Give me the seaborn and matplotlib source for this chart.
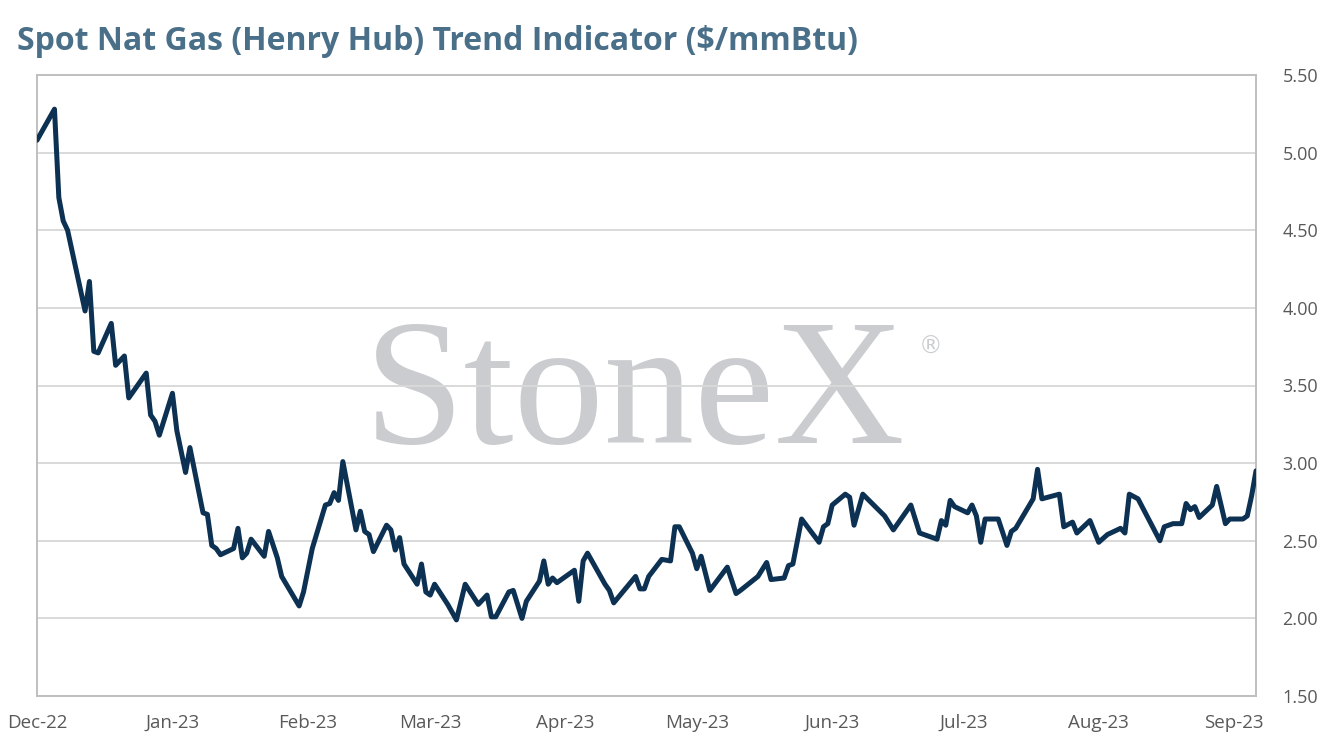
import matplotlib
matplotlib.use("Agg")
import matplotlib.pyplot as plt
import matplotlib.dates as mdates
import seaborn as sns
import pandas as pd

dates = [
    "2022-12-01", "2022-12-05", "2022-12-06", "2022-12-07", "2022-12-08", "2022-12-12", "2022-12-13",
    "2022-12-14", "2022-12-15", "2022-12-18", "2022-12-19", "2022-12-21", "2022-12-22", "2022-12-26",
    "2022-12-27", "2022-12-28", "2022-12-29", "2023-01-01", "2023-01-02", "2023-01-04", "2023-01-05",
    "2023-01-08", "2023-01-09", "2023-01-10", "2023-01-11", "2023-01-12", "2023-01-15", "2023-01-16",
    "2023-01-17", "2023-01-18", "2023-01-19", "2023-01-22", "2023-01-23", "2023-01-25", "2023-01-26",
    "2023-01-30", "2023-01-31", "2023-02-02", "2023-02-05", "2023-02-06", "2023-02-07", "2023-02-08",
    "2023-02-09", "2023-02-12", "2023-02-13", "2023-02-14", "2023-02-15", "2023-02-16", "2023-02-19",
    "2023-02-20", "2023-02-21", "2023-02-22", "2023-02-23", "2023-02-26", "2023-02-27", "2023-02-28",
    "2023-03-01", "2023-03-02", "2023-03-05", "2023-03-07", "2023-03-09", "2023-03-12", "2023-03-14",
    "2023-03-15", "2023-03-16", "2023-03-19", "2023-03-20", "2023-03-22", "2023-03-23", "2023-03-26",
    "2023-03-27", "2023-03-28", "2023-03-29", "2023-03-30", "2023-04-03", "2023-04-04", "2023-04-05",
    "2023-04-06", "2023-04-08", "2023-04-10", "2023-04-11", "2023-04-12", "2023-04-17", "2023-04-18",
    "2023-04-19", "2023-04-20", "2023-04-23", "2023-04-25", "2023-04-26", "2023-04-27", "2023-04-30",
    "2023-05-01", "2023-05-02", "2023-05-04", "2023-05-08", "2023-05-10", "2023-05-11", "2023-05-15",
    "2023-05-17", "2023-05-18", "2023-05-21", "2023-05-22", "2023-05-23", "2023-05-25", "2023-05-29",
    "2023-05-30", "2023-05-31", "2023-06-01", "2023-06-04", "2023-06-05", "2023-06-06", "2023-06-08",
    "2023-06-13", "2023-06-15", "2023-06-19", "2023-06-21", "2023-06-25", "2023-06-26", "2023-06-27",
    "2023-06-28", "2023-06-29", "2023-07-02", "2023-07-03", "2023-07-04", "2023-07-05", "2023-07-06",
    "2023-07-09", "2023-07-11", "2023-07-12", "2023-07-13", "2023-07-17", "2023-07-18", "2023-07-19",
    "2023-07-23", "2023-07-24", "2023-07-26", "2023-07-27", "2023-07-30", "2023-08-01", "2023-08-03",
    "2023-08-06", "2023-08-07", "2023-08-08", "2023-08-10", "2023-08-15", "2023-08-16", "2023-08-18",
    "2023-08-20", "2023-08-21", "2023-08-22", "2023-08-23", "2023-08-24", "2023-08-27", "2023-08-28",
    "2023-08-30", "2023-08-31", "2023-09-03", "2023-09-04", "2023-09-05", "2023-09-06",
]

prices = [
    5.08, 5.28, 4.71, 4.56, 4.50, 3.98, 4.17,
    3.72, 3.71, 3.90, 3.63, 3.69, 3.42, 3.58,
    3.31, 3.27, 3.18, 3.45, 3.21, 2.94, 3.10,
    2.68, 2.67, 2.47, 2.45, 2.41, 2.45, 2.58,
    2.39, 2.42, 2.51, 2.40, 2.56, 2.39, 2.27,
    2.08, 2.17, 2.45, 2.73, 2.74, 2.81, 2.76,
    3.01, 2.57, 2.69, 2.56, 2.54, 2.43, 2.60,
    2.57, 2.44, 2.52, 2.35, 2.22, 2.35, 2.17,
    2.15, 2.22, 2.09, 1.99, 2.22, 2.09, 2.15,
    2.01, 2.01, 2.17, 2.18, 2.00, 2.11, 2.24,
    2.37, 2.22, 2.26, 2.23, 2.31, 2.11, 2.37,
    2.42, 2.32, 2.22, 2.18, 2.10, 2.27, 2.19,
    2.19, 2.27, 2.38, 2.37, 2.59, 2.59, 2.42,
    2.32, 2.40, 2.18, 2.33, 2.16, 2.18, 2.27,
    2.36, 2.25, 2.26, 2.34, 2.35, 2.64, 2.49,
    2.59, 2.61, 2.73, 2.80, 2.78, 2.60, 2.80,
    2.66, 2.57, 2.73, 2.55, 2.51, 2.63, 2.60,
    2.76, 2.72, 2.68, 2.73, 2.66, 2.49, 2.64,
    2.64, 2.47, 2.56, 2.58, 2.77, 2.96, 2.77,
    2.80, 2.59, 2.62, 2.55, 2.63, 2.49, 2.54,
    2.58, 2.55, 2.80, 2.77, 2.50, 2.59, 2.61,
    2.61, 2.74, 2.70, 2.72, 2.65, 2.73, 2.85,
    2.61, 2.64, 2.64, 2.66, 2.79, 2.95,
]

y_ticks = [1.50, 2.00, 2.50, 3.00, 3.50, 4.00, 4.50, 5.00, 5.50]
title = "Spot Nat Gas (Henry Hub) Trend Indicator ($/mmBtu)"

df = pd.DataFrame({"date": pd.to_datetime(dates), "price": prices})

sns.set_theme(style="white")
plt.rcParams["font.family"] = ["Open Sans", "DejaVu Sans"]

fig = plt.figure(figsize=(13.35, 7.56), dpi=100)
ax = fig.add_axes([37 / 1335, 1 - 696 / 756, (1256 - 37) / 1335, (696 - 75) / 756])

sns.lineplot(data=df, x="date", y="price", ax=ax, color="#0c3152", linewidth=3.6,
             solid_joinstyle="round", solid_capstyle="round", zorder=3)

ax.set_xlim(pd.Timestamp("2022-12-01"), pd.Timestamp("2023-09-06"))
ax.set_ylim(1.5, 5.5)
ax.set_yticks(y_ticks)
ax.set_yticklabels([f"{v:.2f}" for v in y_ticks])
ax.yaxis.tick_right()
ax.xaxis.set_major_locator(mdates.MonthLocator())
ax.xaxis.set_major_formatter(mdates.DateFormatter("%b-%y"))
ax.tick_params(axis="both", length=0, colors="#595959")
ax.tick_params(axis="y", pad=19, labelsize=13)
ax.tick_params(axis="x", pad=13, labelsize=13.5)
ax.set_xlabel("")
ax.set_ylabel("")

ax.set_axisbelow(True)
ax.yaxis.grid(True, color="#d9d9d9", linewidth=1.4)
ax.xaxis.grid(False)
for s in ax.spines.values():
    s.set_color("#bfbfbf")
    s.set_linewidth(1.4)

ax.text(0.4906, 0.4074, "StoneX", transform=ax.transAxes, ha="center", va="baseline",
        fontsize=130, color="#cbcccf", family=["Liberation Serif", "DejaVu Serif"], zorder=0.2)
fig.text(931 / 1335, 1 - 347 / 756, "®", ha="center", va="center", fontsize=17,
         color="#cbcccf", family=["DejaVu Sans"])

fig.text(17 / 1335, 1 - 50 / 756, title, ha="left", va="baseline", fontsize=23,
         fontweight="bold", color="#4a7089")

fig.savefig("out.png", dpi=100)
